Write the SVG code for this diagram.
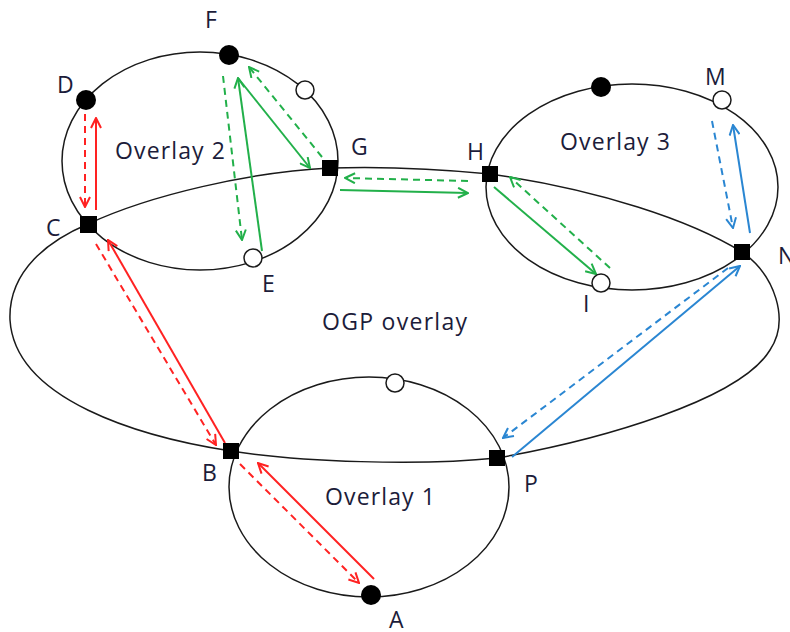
<svg xmlns="http://www.w3.org/2000/svg" width="790" height="632" viewBox="0 0 790 632">
<style>
.ring{fill:none;stroke:#1a1a1a;stroke-width:1.5}
.sq{fill:#000}
.dot{fill:#000}
.open{fill:#fff;stroke:#1a1a1a;stroke-width:1.5}
.lbl{font-family:"Open Sans","Liberation Sans",sans-serif;font-size:23px;fill:#1c1c3a}
.r{stroke:#f22;stroke-width:2;fill:none}
.g{stroke:#22b04a;stroke-width:2;fill:none}
.b{stroke:#2a86d2;stroke-width:2;fill:none}
.d{stroke-dasharray:7,5}
</style>
<defs>
<marker id="ar" viewBox="0 0 12 12" refX="11" refY="6" markerWidth="12" markerHeight="12" markerUnits="userSpaceOnUse" orient="auto"><path d="M1,1 L11,6 L1,11" fill="none" stroke="#f22" stroke-width="2"/></marker>
<marker id="ag" viewBox="0 0 12 12" refX="11" refY="6" markerWidth="12" markerHeight="12" markerUnits="userSpaceOnUse" orient="auto"><path d="M1,1 L11,6 L1,11" fill="none" stroke="#22b04a" stroke-width="2"/></marker>
<marker id="ab" viewBox="0 0 12 12" refX="11" refY="6" markerWidth="12" markerHeight="12" markerUnits="userSpaceOnUse" orient="auto"><path d="M1,1 L11,6 L1,11" fill="none" stroke="#2a86d2" stroke-width="2"/></marker>
</defs>
<rect width="790" height="632" fill="#fff"/>
<g id="ogp">
<path class="ring" d="M88,224 C150,195 250,172 330,168 C390,166 450,170 490,174 C600,190 690,220 742,252 C775,275 790,320 770,350 C740,400 600,440 497,458 C420,466 300,462 231,451 C140,437 15,400 10,320 C8,270 50,240 88,224 Z"/>
<text class="lbl" x="322" y="330" textLength="145">OGP overlay</text>
</g>
<g id="overlay2">
<ellipse class="ring" cx="200" cy="161" rx="138" ry="109"/>
<text class="lbl" x="115" y="159" textLength="110">Overlay 2</text>
</g>
<g id="overlay3">
<ellipse class="ring" cx="632" cy="187" rx="146" ry="103"/>
<text class="lbl" x="560" y="150" textLength="110">Overlay 3</text>
</g>
<g id="overlay1">
<ellipse class="ring" cx="369" cy="487" rx="140" ry="110"/>
<text class="lbl" x="325" y="505" textLength="110">Overlay 1</text>
</g>
<g id="connectors">
<line class="r d" x1="85" y1="114" x2="85" y2="207" marker-end="url(#ar)"/>
<line class="r" x1="96" y1="210" x2="96" y2="118" marker-end="url(#ar)"/>
<line class="r d" x1="96" y1="244" x2="216" y2="445" marker-end="url(#ar)"/>
<line class="r" x1="225" y1="443" x2="108" y2="240" marker-end="url(#ar)"/>
<line class="r d" x1="240" y1="464" x2="359" y2="583" marker-end="url(#ar)"/>
<line class="r" x1="374" y1="579" x2="258" y2="463" marker-end="url(#ar)"/>
<line class="g d" x1="223" y1="76" x2="242" y2="240" marker-end="url(#ag)"/>
<line class="g" x1="262" y1="251" x2="238" y2="78" marker-end="url(#ag)"/>
<line class="g" x1="238" y1="78" x2="310" y2="168" marker-end="url(#ag)"/>
<line class="g d" x1="322" y1="157" x2="249" y2="67" marker-end="url(#ag)"/>
<line class="g d" x1="468" y1="181" x2="345" y2="178" marker-end="url(#ag)"/>
<line class="g" x1="340" y1="190" x2="468" y2="193" marker-end="url(#ag)"/>
<line class="g" x1="494" y1="187" x2="596" y2="274" marker-end="url(#ag)"/>
<line class="g d" x1="610" y1="268" x2="510" y2="177" marker-end="url(#ag)"/>
<line class="b d" x1="712" y1="121" x2="733" y2="228" marker-end="url(#ab)"/>
<line class="b" x1="750" y1="233" x2="733" y2="125" marker-end="url(#ab)"/>
<line class="b d" x1="728" y1="268" x2="503" y2="438" marker-end="url(#ab)"/>
<line class="b" x1="512" y1="457" x2="740" y2="266" marker-end="url(#ab)"/>
</g>
<g id="node-C"><rect class="sq" x="80" y="216" width="17" height="17"/><text class="lbl" x="46" y="236">C</text></g>
<g id="node-G"><rect class="sq" x="322" y="160" width="16" height="16"/><text class="lbl" x="351" y="155">G</text></g>
<g id="node-H"><rect class="sq" x="482" y="166" width="16" height="16"/><text class="lbl" x="467" y="160">H</text></g>
<g id="node-N"><rect class="sq" x="734" y="244" width="16" height="16"/><text class="lbl" x="778" y="264">N</text></g>
<g id="node-B"><rect class="sq" x="223" y="443" width="16" height="16"/><text class="lbl" x="202" y="481">B</text></g>
<g id="node-P"><rect class="sq" x="489" y="450" width="16" height="16"/><text class="lbl" x="524" y="492">P</text></g>
<g id="node-D"><circle class="dot" cx="86" cy="100" r="10"/><text class="lbl" x="57" y="93">D</text></g>
<g id="node-F"><circle class="dot" cx="229" cy="55" r="10"/><text class="lbl" x="205" y="28">F</text></g>
<g id="node-o2"><circle class="open" cx="305" cy="90" r="9"/></g>
<g id="node-E"><circle class="open" cx="253" cy="258" r="9"/><text class="lbl" x="262" y="292">E</text></g>
<g id="node-o3"><circle class="dot" cx="601" cy="87" r="10"/></g>
<g id="node-M"><circle class="open" cx="722" cy="100" r="9"/><text class="lbl" x="705" y="85">M</text></g>
<g id="node-I"><circle class="open" cx="601" cy="283" r="9"/><text class="lbl" x="583" y="312">I</text></g>
<g id="node-o1"><circle class="open" cx="395" cy="383" r="9"/></g>
<g id="node-A"><circle class="dot" cx="371" cy="595" r="10"/><text class="lbl" x="389" y="628">A</text></g>
</svg>
